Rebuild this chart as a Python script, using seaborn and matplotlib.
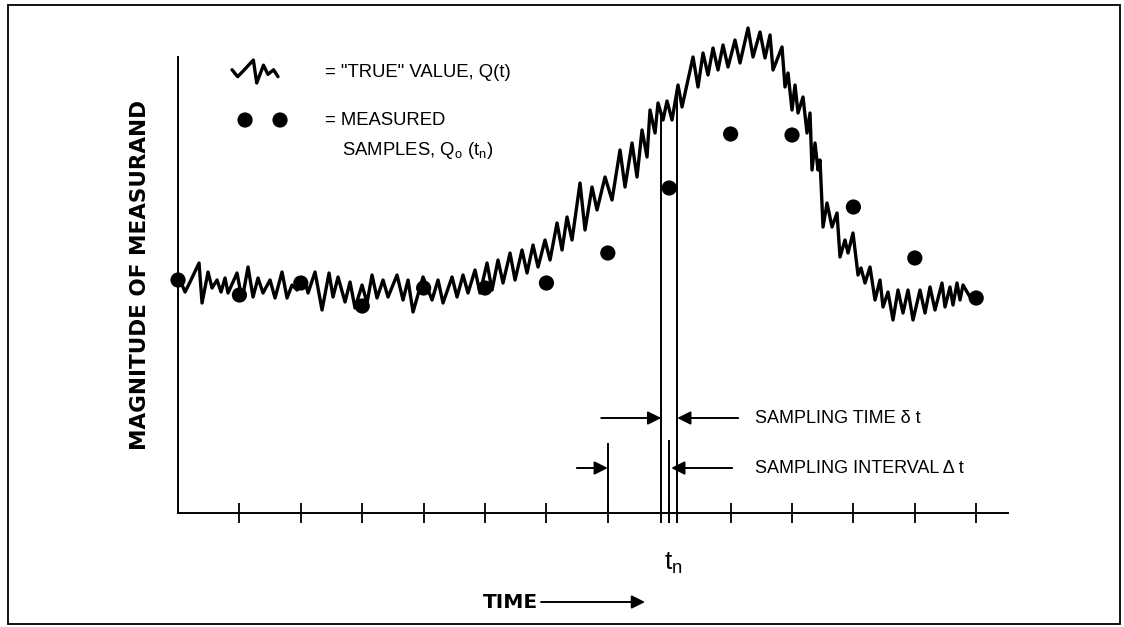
import numpy as np
import matplotlib
import matplotlib.pyplot as plt
import seaborn as sns
from matplotlib.patches import Rectangle

matplotlib.use('Agg')

# "true" value Q(t): peaks and troughs (time in arbitrary units)
true_t = [2, 7, 12, 21, 24, 30, 34, 39, 43, 47, 50, 59, 64, 70, 75, 80, 85, 92, 97, 104,
          109, 114, 119, 127, 130, 137, 144, 151, 155, 160, 167, 172, 177, 184, 189, 194, 199, 205, 210, 219,
          225, 230, 235, 245, 254, 260, 265, 274, 279, 285, 290, 297, 302, 309, 314, 320, 325, 332, 337, 344,
          349, 355, 360, 367, 372, 379, 384, 389, 394, 402, 407, 414, 419, 427, 434, 442, 447, 454, 459, 464,
          469, 472, 477, 480, 485, 489, 494, 500, 504, 515, 520, 525, 530, 535, 540, 545, 550, 557, 562, 570,
          575, 582, 587, 592, 595, 604, 607, 610, 614, 617, 620, 625, 629, 632, 634, 637, 640, 642, 645, 649,
          654, 659, 662, 667, 670, 675, 680, 683, 687, 692, 697, 702, 705, 710, 715, 720, 725, 730, 735, 742,
          747, 752, 757, 764, 767, 772, 775, 779, 782, 785, 792]
true_v = [23.3, 22.1, 23.1, 25.0, 21.0, 24.1, 22.5, 23.3, 22.1, 23.5, 22.0, 24.0, 21.3, 24.6, 21.6, 23.5, 22.0, 23.3, 21.5, 24.1,
          21.5, 22.8, 22.3, 23.3, 22.0, 24.1, 20.3, 24.0, 21.6, 23.6, 21.1, 23.1, 20.5, 22.8, 21.0, 23.8, 21.5, 23.3, 21.6, 23.8,
          21.3, 23.3, 20.1, 23.6, 21.3, 23.3, 21.0, 23.6, 21.6, 23.8, 22.0, 24.3, 22.0, 25.0, 22.3, 25.3, 23.0, 26.0, 23.3, 26.3,
          24.0, 26.8, 24.6, 27.3, 25.3, 29.0, 26.3, 29.6, 27.3, 33.0, 28.3, 32.6, 30.3, 33.6, 31.3, 36.3, 32.6, 37.0, 33.6, 38.3,
          35.6, 40.3, 38.0, 41.0, 39.3, 41.2, 39.3, 42.8, 40.6, 45.6, 42.6, 46.0, 43.8, 46.5, 44.3, 46.8, 44.6, 47.3, 45.0, 48.5,
          45.6, 48.1, 45.5, 47.8, 44.3, 46.6, 42.6, 44.0, 40.3, 42.8, 40.0, 41.6, 38.0, 40.0, 34.3, 37.0, 34.3, 35.3, 28.6, 31.0,
          28.6, 30.0, 25.6, 27.3, 26.0, 28.0, 23.8, 24.5, 23.0, 24.6, 21.3, 23.3, 20.6, 22.1, 19.3, 22.3, 20.0, 22.3, 19.3, 22.3,
          20.0, 22.6, 20.3, 23.0, 20.6, 22.6, 20.8, 23.0, 21.3, 22.8, 21.6]

# measured samples Q_o(t_n), one per sampling interval
sample_t = [0, 61.4, 122.8, 184.2, 245.6, 307, 368.4, 429.8, 491.2, 552.6, 614, 675.4, 736.8, 798.2]
sample_v = [23.3, 21.8, 23.0, 20.7, 22.5, 22.5, 23.0, 26.0, 32.5, 37.9, 37.8, 30.6, 25.5, 21.5]

sampling_time = 16   # width of the sampling window (delta t)
n_index = 8          # sample marked t_n

sns.set_theme(style='white')
plt.rcParams['font.family'] = ['Liberation Sans', 'DejaVu Sans']
plt.rcParams['mathtext.default'] = 'regular'
plt.rcParams['text.color'] = 'black'

fig = plt.figure(figsize=(11.24, 6.27), dpi=100)
ax = fig.add_axes([0.1584, 0.1818, 0.7384, 0.7863])
ax.set_facecolor('white')

sns.lineplot(x=true_t, y=true_v, ax=ax, color='black', lw=2.4, estimator=None, sort=False,
             solid_joinstyle='round', solid_capstyle='round')
sns.scatterplot(x=sample_t, y=sample_v, ax=ax, color='black', s=120, edgecolor='none',
                zorder=3, clip_on=False)

ax.set_xlim(0, 830)
ax.set_ylim(0, 49.3)
for side in ['top', 'right']:
    ax.spines[side].set_visible(False)
for side in ['left', 'bottom']:
    ax.spines[side].set_color('black')
    ax.spines[side].set_linewidth(1.4)
ax.spines['left'].set_bounds(0, 45.6)
ax.set_xticks(sample_t[1:])
ax.set_xticklabels([])
ax.set_yticks([])
ax.tick_params(axis='x', direction='inout', length=14, width=1.3, color='black', bottom=True)
ax.set_xlabel('')
ax.set_ylabel('')

# sampling window around t_n and interval marks
t_n = sample_t[n_index]
t_prev = sample_t[n_index - 1]
left = t_n - sampling_time / 2
right = t_n + sampling_time / 2
ax.vlines([left, right], -1.0, [np.interp(left, true_t, true_v), np.interp(right, true_t, true_v)],
          color='black', lw=1.4, clip_on=False)
ax.vlines([t_n], -1.0, 7.3, color='black', lw=1.4, clip_on=False)
ax.vlines([t_prev], 0, 7.0, color='black', lw=1.4)

arrow = dict(arrowstyle='-|>', color='black', lw=1.4, mutation_scale=20, shrinkA=0, shrinkB=0)
ax.annotate('', xy=(left, 9.5), xytext=(left - 60, 9.5), arrowprops=arrow)
ax.annotate('', xy=(right, 9.5), xytext=(right + 61, 9.5), arrowprops=arrow)
ax.annotate('', xy=(t_prev, 4.5), xytext=(t_prev - 31, 4.5), arrowprops=arrow)
ax.annotate('', xy=(t_n + 2, 4.5), xytext=(t_n + 63, 4.5), arrowprops=arrow)
ax.text(577, 9.5, 'SAMPLING TIME \u03b4 t', fontsize=13, va='center', ha='left')
ax.text(577, 4.5, 'SAMPLING INTERVAL \u0394 t', fontsize=13, va='center', ha='left')

ax.text(t_n - 5, -5.0, '$t_n$', fontsize=19, va='center', ha='left', clip_on=False)

# time arrow
ax.text(305, -8.9, 'TIME', fontsize=14.5, fontweight='bold', family='DejaVu Sans',
        va='center', ha='left', clip_on=False)
ax.annotate('', xy=(467, -8.9), xytext=(363, -8.9), arrowprops=arrow, annotation_clip=False)

# legend drawn from a short stretch of the true trace
seg_t = np.array(true_t[:9], dtype=float)
seg_v = np.array(true_v[:9], dtype=float)
glyph_t = 54 + (seg_t - seg_t.min()) / (seg_t.max() - seg_t.min()) * 46
glyph_v = 43.0 + (seg_v - seg_v.min()) / (seg_v.max() - seg_v.min()) * 2.3
ax.plot(glyph_t, glyph_v, color='black', lw=2.4, solid_joinstyle='round')
ax.scatter([67, 102], [39.3, 39.3], s=120, color='black', edgecolor='none')
ax.text(147, 44.1, '= "TRUE" VALUE, Q(t)', fontsize=13.3, va='center', ha='left')
ax.text(147, 39.3, '= MEASURED', fontsize=13.3, va='center', ha='left')
ax.text(164, 36.3, 'SAMPLES, $Q_o$ ($t_n$)', fontsize=13.3, va='center', ha='left')

fig.text(140 / 1124, 1 - 275 / 627, 'MAGNITUDE OF MEASURAND', rotation=90, fontsize=15.5,
         fontweight='bold', family='DejaVu Sans', va='center', ha='center')

fig.patches.append(Rectangle((8 / 1124, 3 / 627), 1112 / 1124, 619 / 627, transform=fig.transFigure,
                             fill=False, edgecolor='black', lw=1.3))

fig.savefig('out.png', dpi=100)
